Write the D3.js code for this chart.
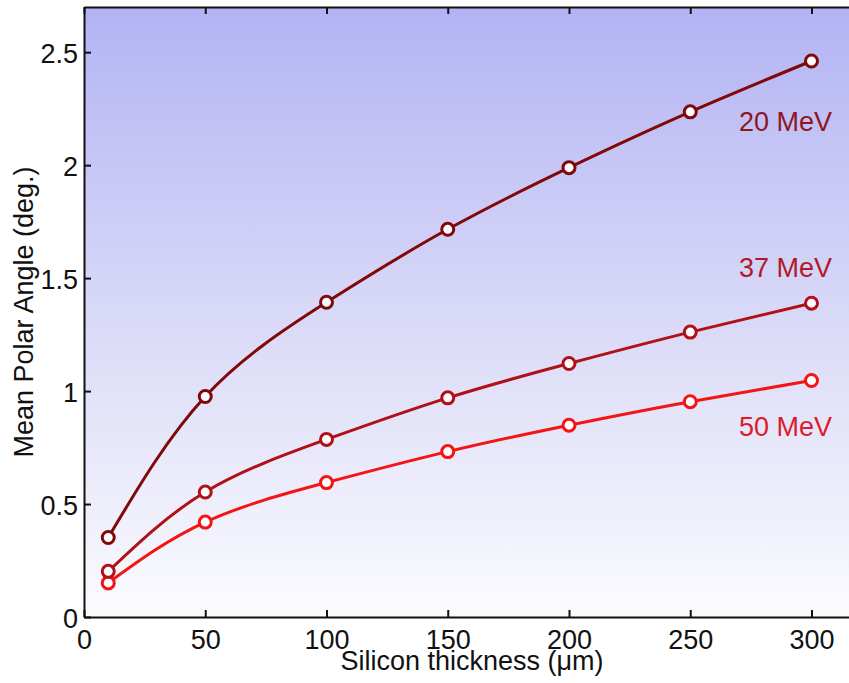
<!DOCTYPE html>
<html>
<head>
<meta charset="utf-8">
<script src="https://cdn.jsdelivr.net/npm/d3@7"></script>
<style>
  html, body { margin: 0; padding: 0; background: #ffffff; }
  svg { display: block; }
  text { font-family: "Liberation Sans", Arial, Helvetica, sans-serif; }
</style>
</head>
<body>
<div id="chart"></div>
<script>
// ---- data ----
const thickness = [10, 50, 100, 150, 200, 250, 300];
const angle20MeV = [0.352, 0.976, 1.393, 1.716, 1.989, 2.236, 2.461];
const angle37MeV = [0.202, 0.553, 0.786, 0.970, 1.122, 1.261, 1.389];
const angle50MeV = [0.151, 0.420, 0.595, 0.732, 0.849, 0.953, 1.047];
const seriesNames = ["20 MeV", "37 MeV", "50 MeV"];
const xTicks = [0, 50, 100, 150, 200, 250, 300];
const yTicks = [0, 0.5, 1, 1.5, 2, 2.5];
const xTitle = "Silicon thickness (\u03BCm)";
const yTitle = "Mean Polar Angle (deg.)";

// ---- layout ----
const W = 849, H = 683;
const mLeft = 84, mRight = 860, mTop = 7, mBottom = 617;

const x = d3.scaleLinear().domain([0, 320]).range([mLeft, mRight]);
const y = d3.scaleLinear().domain([0, 2.7]).range([mBottom, mTop]);

const svg = d3.select("#chart").append("svg")
  .attr("width", W).attr("height", H);

const defs = svg.append("defs");
const grad = defs.append("linearGradient").attr("id", "bg")
  .attr("x1", 0).attr("y1", 0).attr("x2", 0).attr("y2", 1);
grad.append("stop").attr("offset", "0%").attr("stop-color", "#b3b3f4");
grad.append("stop").attr("offset", "55%").attr("stop-color", "#dcdcf8");
grad.append("stop").attr("offset", "100%").attr("stop-color", "#fbfbfe");

svg.append("rect")
  .attr("x", mLeft).attr("y", mTop)
  .attr("width", mRight - mLeft).attr("height", mBottom - mTop)
  .attr("fill", "url(#bg)");

const fs = 27;

// axes
const xAxis = svg.append("g").attr("transform", `translate(0,${mBottom})`)
  .call(d3.axisBottom(x).tickValues(xTicks).tickFormat(d3.format("d"))
    .tickSizeInner(-7).tickSizeOuter(0).tickPadding(13));
const xAxisTop = svg.append("g").attr("transform", `translate(0,${mTop})`)
  .call(d3.axisTop(x).tickValues(xTicks).tickFormat("")
    .tickSizeInner(-7).tickSizeOuter(0));
const yAxis = svg.append("g").attr("transform", `translate(${mLeft},0)`)
  .call(d3.axisLeft(y).tickValues(yTicks).tickFormat(d => String(d))
    .tickSizeInner(-7).tickSizeOuter(0).tickPadding(6));

[xAxis, xAxisTop, yAxis].forEach(g => {
  g.select(".domain").attr("stroke", "#111").attr("stroke-width", 2);
  g.selectAll(".tick line").attr("stroke", "#111").attr("stroke-width", 2);
  g.selectAll(".tick text").attr("font-size", fs).attr("fill", "#111")
    .attr("font-family", "Liberation Sans, Arial, sans-serif");
});
yAxis.selectAll(".tick text").attr("dy", "0.4em");

// series
const series = [
  { name: seriesNames[0], values: angle20MeV, color: "#800808", label: "#8e1620" },
  { name: seriesNames[1], values: angle37MeV, color: "#b01016", label: "#b01a28" },
  { name: seriesNames[2], values: angle50MeV, color: "#f41414", label: "#dc1c2c" }
];

const line = d3.line()
  .x((d, i) => x(thickness[i]))
  .y(d => y(d))
  .curve(d3.curveNatural);

const plot = svg.append("g");
series.slice().reverse().forEach(s => {
  plot.append("path")
    .attr("d", line(s.values))
    .attr("fill", "none")
    .attr("stroke", s.color)
    .attr("stroke-width", 3);
  plot.selectAll(null).data(s.values).enter().append("circle")
    .attr("cx", (d, i) => x(thickness[i]))
    .attr("cy", d => y(d))
    .attr("r", 6)
    .attr("fill", "#ffffff")
    .attr("stroke", s.color)
    .attr("stroke-width", 3);
});

// labels
const labelBaselines = [131, 277, 436];
series.forEach((s, i) => {
  svg.append("text")
    .attr("x", 739)
    .attr("y", labelBaselines[i])
    .attr("font-size", fs)
    .attr("fill", s.label)
    .text(s.name);
});

// axis titles
svg.append("text")
  .attr("x", (mLeft + mRight) / 2)
  .attr("y", 670)
  .attr("text-anchor", "middle")
  .attr("font-size", fs)
  .attr("fill", "#111")
  .text(xTitle);

svg.append("text")
  .attr("transform", `translate(33,${(mTop + mBottom) / 2}) rotate(-90)`)
  .attr("text-anchor", "middle")
  .attr("font-size", fs)
  .attr("fill", "#111")
  .text(yTitle);
</script>
</body>
</html>
